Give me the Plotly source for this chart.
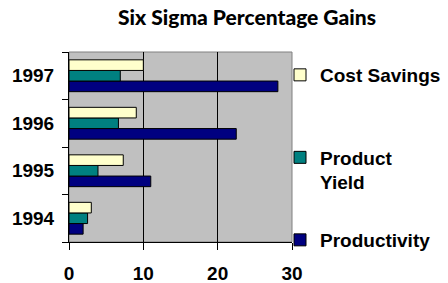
import plotly.graph_objects as go

years = ["1994", "1995", "1996", "1997"]
productivity = [1.9, 11.0, 22.5, 28.1]
product_yield = [2.5, 3.9, 6.65, 6.9]
cost_savings = [3.0, 7.3, 9.05, 10.0]
x_ticks = [0, 10, 20, 30]

W, H = 448, 283
L, R, T, B = 69, 156, 52, 41

font_main = "Liberation Sans, Arial, sans-serif"

fig = go.Figure()
fig.add_trace(go.Bar(y=years, x=productivity, orientation="h", name="Productivity",
                     marker=dict(color="#000080", line=dict(color="black", width=1)),
                     legend="legend3", showlegend=True))
fig.add_trace(go.Bar(y=years, x=product_yield, orientation="h", name="Product<br>Yield",
                     marker=dict(color="#008080", line=dict(color="black", width=1)),
                     legend="legend2", showlegend=True))
fig.add_trace(go.Bar(y=years, x=cost_savings, orientation="h", name="Cost Savings",
                     marker=dict(color="#FFFFCC", line=dict(color="black", width=1)),
                     legend="legend", showlegend=True))

leg_common = dict(xref="container", yref="container", xanchor="left", yanchor="middle",
                  bgcolor="rgba(0,0,0,0)", borderwidth=0, valign="top",
                  font=dict(family=font_main, size=19, color="black", weight="bold"))
lx = 280 / W

fig.update_layout(
    width=W, height=H,
    margin=dict(l=L, r=R, t=T, b=B, pad=0, autoexpand=False),
    showlegend=True,
    paper_bgcolor="white",
    plot_bgcolor="#C0C0C0",
    barmode="group",
    bargap=0.33,
    bargroupgap=0,
    title=dict(text="Six Sigma Percentage Gains", x=247 / W, xanchor="center",
               y=1 - 18 / H, yanchor="middle", xref="container", yref="container",
               font=dict(family="Lato, sans-serif", size=21, color="black", weight=900)),
    legend=dict(x=lx, y=1 - 75 / H, **leg_common),
    legend2=dict(x=lx, y=1 - 170 / H, **leg_common),
    legend3=dict(x=lx, y=1 - 240 / H, **leg_common),
    xaxis=dict(range=[0, 30], tickvals=x_ticks, ticks="outside", ticklen=7, tickcolor="black",
               tickwidth=1, showgrid=True, gridcolor="black", gridwidth=1,
               showline=True, linecolor="black", linewidth=1, zeroline=False,
               ticklabelstandoff=7, automargin=False,
               tickfont=dict(family=font_main, size=19, color="black", weight="bold")),
    yaxis=dict(type="category", categoryorder="array", categoryarray=years,
               ticks="outside", ticklen=6, tickcolor="black", tickwidth=1,
               tickson="boundaries", showgrid=False, showline=True, linecolor="black",
               linewidth=1, ticklabelstandoff=10, automargin=False,
               tickfont=dict(family=font_main, size=19, color="black", weight="bold")),
    shapes=[dict(type="rect", xref="paper", yref="paper", x0=0, x1=1, y0=0, y1=1,
                 line=dict(color="#808080", width=1), layer="below")],
)

fig.write_html("out.html", config={"displayModeBar": False},
               post_script="document.body.style.margin='0';document.body.style.overflow='hidden';")
